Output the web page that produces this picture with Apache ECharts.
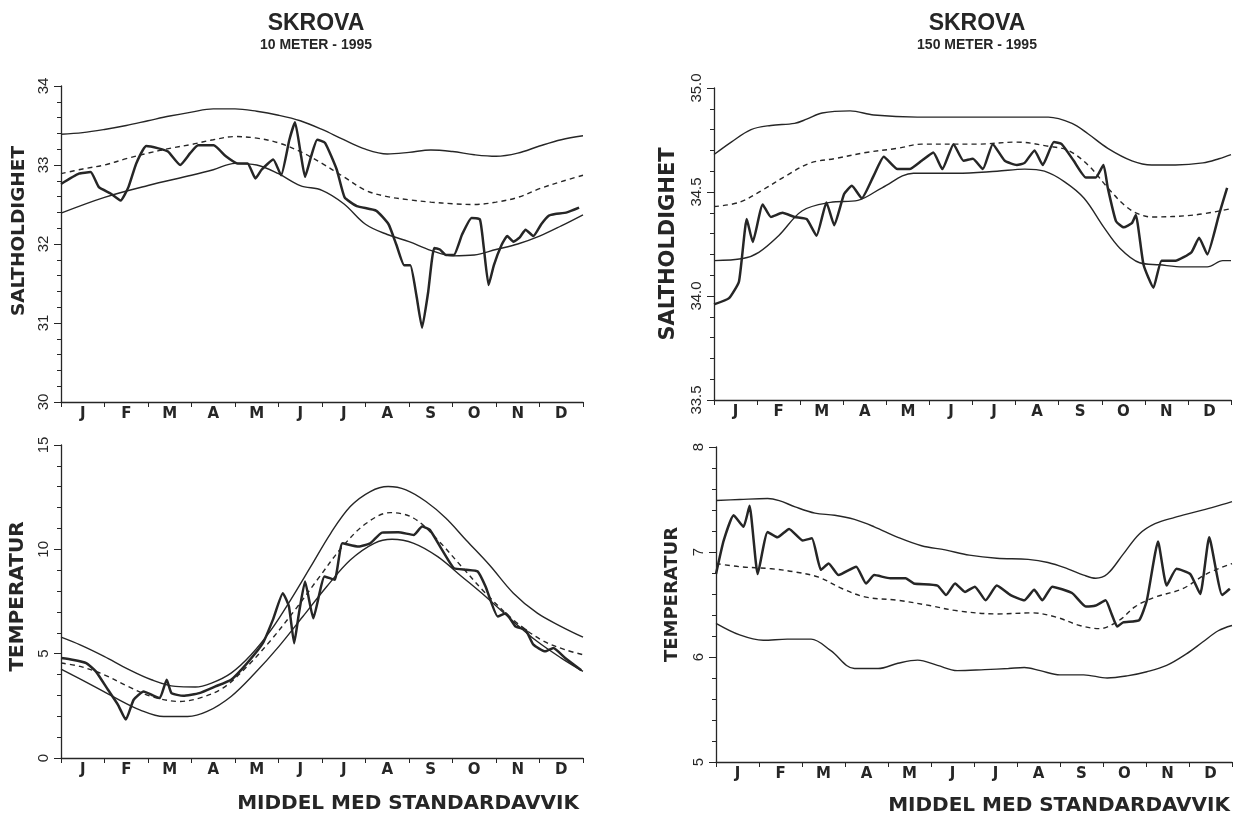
<!DOCTYPE html>
<html>
<head>
<meta charset="utf-8">
<title>SKROVA 1995</title>
<script src="https://cdn.jsdelivr.net/npm/echarts@6/dist/echarts.min.js"></script>
<style>
  html, body { margin: 0; padding: 0; background: #ffffff; }
  #chart { width: 1243px; height: 817px; }
</style>
</head>
<body>
<div id="chart"></div>
<script>
// Month letters shown under each panel
const MONTHS = ['J', 'F', 'M', 'A', 'M', 'J', 'J', 'A', 'S', 'O', 'N', 'D'];

// Salinity at 10 m: [month position, value]
const sal10Upper = [[0,33.39],[0.5,33.41],[1,33.45],[1.5,33.5],[2,33.56],[2.5,33.62],[3,33.67],[3.5,33.71],[4,33.71],[4.5,33.68],[5,33.63],[5.5,33.56],[6,33.45],[6.5,33.32],[7,33.2],[7.5,33.14],[8,33.16],[8.5,33.19],[9,33.17],[9.5,33.13],[10,33.11],[10.5,33.15],[11,33.24],[11.5,33.32],[12,33.37]];
const sal10Mean = [[0,32.89],[0.5,32.95],[1,33.0],[1.5,33.08],[2,33.15],[2.5,33.21],[3,33.26],[3.5,33.32],[4,33.36],[4.5,33.34],[5,33.28],[5.5,33.17],[6,33.02],[6.5,32.85],[7,32.68],[7.5,32.6],[8,32.56],[8.5,32.53],[9,32.51],[9.5,32.5],[10,32.53],[10.5,32.59],[11,32.7],[11.5,32.79],[12,32.87]];
const sal10Lower = [[0,32.39],[1,32.59],[2,32.74],[3,32.87],[3.5,32.94],[4,33.02],[4.5,33.0],[5,32.89],[5.5,32.74],[6,32.68],[6.5,32.51],[7,32.25],[7.5,32.12],[8,32.03],[8.5,31.92],[9,31.85],[9.5,31.86],[10,31.93],[10.5,32.0],[11,32.1],[11.5,32.23],[12,32.37]];
const sal10Obs = [[0,32.76],[0.41,32.89],[0.68,32.91],[0.87,32.72],[1.14,32.64],[1.37,32.55],[1.55,32.72],[1.73,33.02],[1.96,33.24],[2.24,33.21],[2.46,33.17],[2.74,33.0],[2.97,33.15],[3.15,33.25],[3.51,33.25],[3.79,33.11],[4.06,33.02],[4.29,33.02],[4.47,32.83],[4.61,32.94],[4.88,33.07],[5.06,32.87],[5.25,33.32],[5.38,33.54],[5.52,33.11],[5.61,32.85],[5.75,33.11],[5.89,33.32],[6.07,33.28],[6.34,32.94],[6.52,32.59],[6.8,32.48],[7.25,32.42],[7.53,32.25],[7.71,31.99],[7.89,31.73],[8.03,31.73],[8.17,31.35],[8.3,30.94],[8.44,31.39],[8.58,31.95],[8.71,31.93],[8.85,31.86],[9.03,31.86],[9.22,32.12],[9.44,32.33],[9.63,32.31],[9.72,31.95],[9.83,31.48],[9.95,31.73],[10.13,31.99],[10.26,32.1],[10.4,32.03],[10.54,32.08],[10.68,32.18],[10.86,32.1],[11.04,32.25],[11.22,32.36],[11.36,32.38],[11.63,32.4],[11.91,32.46]];

// Salinity at 150 m
const sal150Upper = [[0,34.68],[0.4,34.74],[0.86,34.8],[1.32,34.82],[1.87,34.83],[2.15,34.85],[2.51,34.88],[3.16,34.89],[3.71,34.87],[4.72,34.86],[6.1,34.86],[7.03,34.86],[7.76,34.86],[8.31,34.83],[8.68,34.78],[9.14,34.71],[9.7,34.65],[10.16,34.63],[10.71,34.63],[11.35,34.64],[11.72,34.66],[12,34.68]];
const sal150Mean = [[0,34.43],[0.58,34.45],[1.13,34.51],[1.69,34.58],[2.24,34.64],[2.79,34.66],[3.53,34.69],[4.26,34.71],[4.82,34.73],[6.1,34.73],[7.03,34.74],[7.76,34.72],[8.22,34.7],[8.68,34.63],[9.14,34.52],[9.51,34.44],[9.79,34.4],[10.16,34.38],[11.17,34.39],[12,34.42]];
const sal150Lower = [[0,34.17],[0.67,34.18],[1.04,34.21],[1.5,34.29],[2.05,34.41],[2.7,34.45],[3.34,34.46],[3.9,34.52],[4.63,34.59],[5.64,34.59],[6.57,34.6],[7.21,34.61],[7.67,34.6],[8.13,34.55],[8.59,34.47],[9.05,34.33],[9.42,34.23],[9.88,34.16],[10.34,34.15],[10.89,34.14],[11.45,34.14],[11.81,34.17],[12,34.17]];
const sal150Obs = [[0,33.96],[0.35,33.99],[0.58,34.07],[0.76,34.37],[0.9,34.26],[1.13,34.44],[1.32,34.38],[1.59,34.4],[1.87,34.38],[2.15,34.37],[2.38,34.29],[2.61,34.45],[2.79,34.34],[3.02,34.49],[3.2,34.53],[3.43,34.47],[3.71,34.58],[3.94,34.67],[4.26,34.61],[4.54,34.61],[4.82,34.65],[5.09,34.69],[5.3,34.61],[5.56,34.73],[5.79,34.65],[6.01,34.66],[6.24,34.61],[6.47,34.73],[6.75,34.65],[7.03,34.63],[7.21,34.64],[7.44,34.7],[7.63,34.63],[7.89,34.74],[8.07,34.73],[8.35,34.65],[8.63,34.57],[8.86,34.57],[9.04,34.63],[9.14,34.52],[9.33,34.36],[9.51,34.33],[9.7,34.35],[9.79,34.39],[9.97,34.15],[10.2,34.04],[10.39,34.17],[10.71,34.17],[11.08,34.21],[11.26,34.28],[11.45,34.2],[11.72,34.39],[11.91,34.52]];

// Temperature at 10 m
const temp10Upper = [[0,5.79],[0.44,5.42],[0.99,4.87],[1.54,4.26],[2.08,3.75],[2.63,3.43],[3.09,3.4],[3.46,3.59],[3.91,4.07],[4.37,4.95],[4.83,6.14],[5.28,7.58],[5.74,9.17],[6.2,10.77],[6.65,12.05],[7.11,12.77],[7.52,13.01],[7.93,12.85],[8.39,12.29],[8.85,11.49],[9.31,10.45],[9.85,9.25],[10.4,7.9],[10.95,6.94],[11.5,6.3],[12,5.79]];
const temp10Mean = [[0,4.55],[0.44,4.39],[0.99,3.99],[1.54,3.43],[2.08,2.95],[2.72,2.71],[3.18,2.87],[3.72,3.35],[4.28,4.39],[4.83,5.66],[5.38,7.1],[5.92,8.62],[6.47,10.13],[7.02,11.25],[7.57,11.76],[8.11,11.49],[8.66,10.45],[9.21,9.17],[9.76,7.9],[10.4,6.62],[11.04,5.66],[11.59,5.19],[12,4.95]];
const temp10Lower = [[0,4.26],[0.62,3.59],[1.26,2.87],[1.81,2.31],[2.36,1.99],[2.91,1.99],[3.36,2.23],[3.91,2.95],[4.46,4.07],[5.01,5.35],[5.56,6.78],[6.11,8.22],[6.65,9.49],[7.2,10.29],[7.61,10.48],[8.11,10.29],[8.66,9.65],[9.21,8.7],[9.76,7.74],[10.4,6.54],[10.95,5.58],[11.5,4.79],[12,4.15]];
const temp10Obs = [[0,4.79],[0.26,4.71],[0.58,4.55],[0.8,4.15],[1.08,3.27],[1.31,2.55],[1.49,1.84],[1.67,2.79],[1.9,3.19],[2.08,3.03],[2.27,2.87],[2.43,3.75],[2.54,3.11],[2.81,2.98],[3.18,3.11],[3.55,3.43],[3.91,3.75],[4.28,4.55],[4.64,5.5],[4.87,6.62],[5.1,7.9],[5.24,7.26],[5.36,5.5],[5.47,6.94],[5.61,8.46],[5.8,6.7],[6.06,8.7],[6.29,8.54],[6.47,10.29],[6.84,10.13],[7.11,10.29],[7.38,10.8],[7.75,10.82],[8.11,10.69],[8.3,11.09],[8.48,10.93],[8.76,9.97],[9.03,9.1],[9.31,9.02],[9.58,8.94],[9.76,8.22],[10.04,6.78],[10.22,6.94],[10.45,6.3],[10.68,6.14],[10.86,5.43],[11.13,5.11],[11.32,5.27],[11.59,4.79],[11.96,4.2]];

// Temperature at 150 m
const temp150Upper = [[0,7.49],[0.55,7.5],[1.2,7.51],[1.47,7.49],[1.84,7.43],[2.3,7.37],[2.76,7.35],[3.22,7.31],[3.68,7.24],[4.23,7.14],[4.78,7.06],[5.33,7.02],[5.89,6.97],[6.53,6.94],[7.26,6.93],[7.72,6.9],[8.18,6.84],[8.55,6.78],[8.83,6.75],[9.1,6.79],[9.47,6.98],[9.84,7.17],[10.21,7.27],[10.67,7.33],[11.13,7.38],[11.59,7.43],[12,7.48]];
const temp150Mean = [[0,6.89],[0.55,6.86],[1.29,6.84],[1.84,6.81],[2.39,6.76],[2.94,6.65],[3.49,6.57],[4.23,6.54],[4.97,6.49],[5.61,6.44],[6.53,6.41],[7.36,6.42],[7.91,6.38],[8.46,6.3],[8.92,6.27],[9.38,6.35],[9.75,6.48],[10.21,6.57],[10.85,6.65],[11.4,6.79],[12,6.89]];
const temp150Lower = [[0,6.32],[0.55,6.21],[1.1,6.16],[1.66,6.17],[2.21,6.17],[2.67,6.06],[3.22,5.89],[3.77,5.89],[4.23,5.94],[4.69,5.97],[5.15,5.92],[5.61,5.87],[6.25,5.88],[6.8,5.89],[7.17,5.9],[7.54,5.87],[8.0,5.83],[8.55,5.83],[9.1,5.8],[9.56,5.82],[10.02,5.86],[10.48,5.92],[10.94,6.03],[11.31,6.14],[11.68,6.25],[12,6.3]];
const temp150Obs = [[0,6.79],[0.18,7.11],[0.41,7.35],[0.64,7.24],[0.78,7.44],[0.97,6.79],[1.2,7.19],[1.43,7.14],[1.7,7.22],[2.02,7.11],[2.23,7.13],[2.44,6.83],[2.62,6.89],[2.85,6.78],[3.26,6.86],[3.49,6.7],[3.68,6.78],[4.05,6.75],[4.41,6.75],[4.6,6.7],[5.15,6.68],[5.35,6.59],[5.56,6.7],[5.79,6.62],[6.02,6.67],[6.27,6.54],[6.53,6.68],[6.85,6.59],[7.17,6.54],[7.4,6.64],[7.59,6.54],[7.82,6.67],[8.28,6.61],[8.6,6.48],[8.83,6.49],[9.06,6.54],[9.2,6.41],[9.33,6.29],[9.47,6.33],[9.84,6.35],[10.02,6.54],[10.28,7.1],[10.48,6.68],[10.71,6.84],[11.03,6.79],[11.26,6.6],[11.47,7.14],[11.77,6.59],[11.95,6.65]];

const INK = '#262626';
const FONT = '"Liberation Sans", Arial, Helvetica, sans-serif';
const WIDE = '"DejaVu Sans", "Liberation Sans", sans-serif';

// nameShift moves a rotated axis name up along the axis (pixels)
const panels = [
  { grid: { left: 61, right: 660, top: 86, height: 316 },
    y: { min: 30, max: 34, interval: 1, name: 'SALTHOLDIGHET', nameSize: 18.5, gap: 32, digits: 0, nameShift: 13 },
    series: [sal10Upper, sal10Mean, sal10Lower, sal10Obs] },
  { grid: { left: 714, right: 12, top: 88, height: 312 },
    y: { min: 33.5, max: 35, interval: 0.5, name: 'SALTHOLDIGHET', nameSize: 21, gap: 35, digits: 1, nameShift: 0 },
    series: [sal150Upper, sal150Mean, sal150Lower, sal150Obs] },
  { grid: { left: 61, right: 660, top: 445, height: 313 },
    y: { min: 0, max: 15, interval: 5, name: 'TEMPERATUR', nameSize: 20, gap: 33, digits: 0, nameShift: 5 },
    series: [temp10Upper, temp10Mean, temp10Lower, temp10Obs] },
  { grid: { left: 716, right: 11, top: 447, height: 315 },
    y: { min: 5, max: 8, interval: 1, name: 'TEMPERATUR', nameSize: 18, gap: 35, digits: 0, nameShift: 10 },
    series: [temp150Upper, temp150Mean, temp150Lower, temp150Obs] }
];

const grids = [], xAxes = [], yAxes = [], series = [];

panels.forEach((p, i) => {
  grids.push(p.grid);
  // visible month axis
  xAxes.push({
    type: 'category', gridIndex: i, data: MONTHS, boundaryGap: true,
    axisLine: { lineStyle: { color: INK, width: 1.3 } },
    axisTick: { show: true, length: 5, lineStyle: { color: INK, width: 1 } },
    axisLabel: {
      color: INK, fontFamily: WIDE, fontWeight: 'bold', fontSize: 15, margin: 5,
      formatter: (v, idx) => MONTHS[idx]
    },
    splitLine: { show: false }
  });
  // hidden numeric axis carrying the curves (0..12 months)
  xAxes.push({ type: 'value', gridIndex: i, min: 0, max: 12, show: false });
  yAxes.push({
    type: 'value', gridIndex: i, min: p.y.min, max: p.y.max, interval: p.y.interval,
    name: p.y.name, nameLocation: 'middle', nameRotate: 90, nameGap: p.y.gap,
    nameTextStyle: {
      color: INK, fontFamily: WIDE, fontWeight: 'bold', fontSize: p.y.nameSize,
      padding: [0, 0, 0, p.y.nameShift * 2]
    },
    axisLine: { show: true, lineStyle: { color: INK, width: 1.3 } },
    axisTick: { show: true, length: 7, lineStyle: { color: INK, width: 1 } },
    minorTick: { show: true, splitNumber: 5, length: 4, lineStyle: { color: INK, width: 1 } },
    axisLabel: {
      color: INK, fontFamily: FONT, fontSize: 15, rotate: 90, margin: 10,
      formatter: v => v.toFixed(p.y.digits)
    },
    splitLine: { show: false }, minorSplitLine: { show: false }
  });
  const xi = i * 2 + 1;
  const styles = [
    { width: 1.4, type: 'solid', smooth: 0.35 },
    { width: 1.4, type: [5, 4], smooth: 0.35 },
    { width: 1.4, type: 'solid', smooth: 0.35 },
    { width: 2.5, type: 'solid', smooth: 0.15 }
  ];
  p.series.forEach((d, k) => {
    series.push({
      type: 'line', xAxisIndex: xi, yAxisIndex: i, data: d,
      showSymbol: false, symbol: 'none', smooth: styles[k].smooth, silent: true,
      lineStyle: { color: INK, width: styles[k].width, type: styles[k].type },
      z: k === 3 ? 5 : 3
    });
  });
});

const textEl = (x, y, text, size, family, align) => ({
  type: 'text', x: x, y: y,
  style: { text: text, fill: INK, font: 'bold ' + size + 'px ' + family, textAlign: align || 'center', textVerticalAlign: 'middle' }
});

const chart = echarts.init(document.getElementById('chart'), null, { renderer: 'canvas' });
chart.setOption({
  backgroundColor: '#ffffff',
  animation: false,
  grid: grids,
  xAxis: xAxes,
  yAxis: yAxes,
  series: series,
  graphic: [
    textEl(316, 24, 'SKROVA', 23, FONT),
    textEl(316, 45, '10 METER - 1995', 14, FONT),
    textEl(977, 24, 'SKROVA', 23, FONT),
    textEl(977, 45, '150 METER - 1995', 14, FONT),
    textEl(579, 804, 'MIDDEL MED STANDARDAVVIK', 20, WIDE, 'right'),
    textEl(1230, 806, 'MIDDEL MED STANDARDAVVIK', 20, WIDE, 'right')
  ]
});
</script>
</body>
</html>
